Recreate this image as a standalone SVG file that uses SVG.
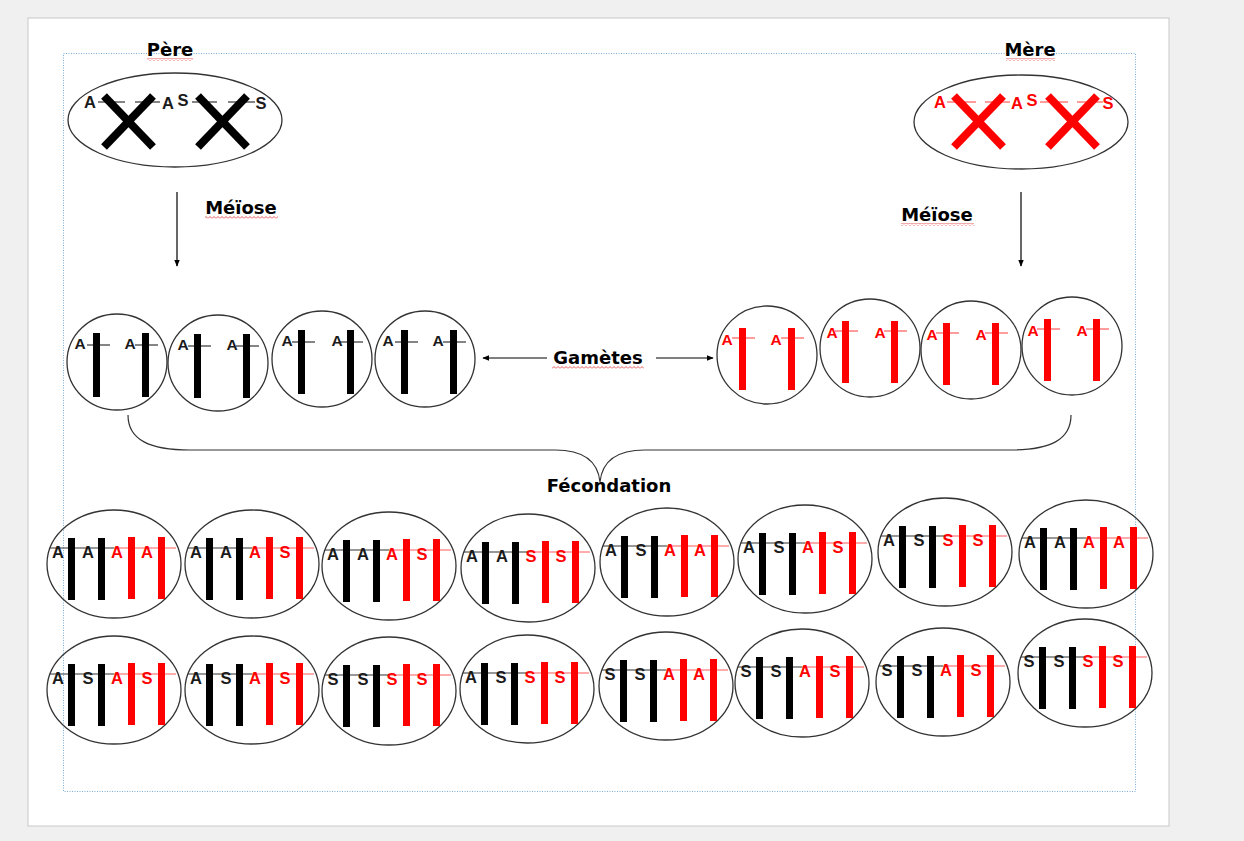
<svg xmlns="http://www.w3.org/2000/svg" xmlns:xlink="http://www.w3.org/1999/xlink" width="1244" height="841" viewBox="0 0 1244 841">
  <style>
    .cell { fill: none; stroke: #333; stroke-width: 1.3; }
    .ttl { font-family: "DejaVu Sans", "Liberation Sans", sans-serif; font-weight: bold; font-size: 18px; fill: #000; text-anchor: middle; }
    .lb { font-family: "Liberation Sans", Arial, sans-serif; font-weight: bold; font-size: 16.5px; fill: #1a1a1a; text-anchor: middle; }
    .lr { font-family: "Liberation Sans", Arial, sans-serif; font-weight: bold; font-size: 16.5px; fill: #ff0000; text-anchor: middle; }
    .g .lb, .g .lr { font-size: 15.5px; }
    .thin { stroke: #333; stroke-width: 1.2; fill: none; }
    .thinr { stroke: #ff5a5a; stroke-width: 1.2; fill: none; }
    .xb { stroke: #000; stroke-width: 8; }
    .xr { stroke: #ff0000; stroke-width: 8; }
    .arrow { stroke: #000; stroke-width: 1.2; fill: none; marker-end: url(#head); }
    .squig { fill: url(#wave); }
  </style>
  <defs>
    <marker id="head" viewBox="0 0 10 10" refX="9" refY="5" markerWidth="7" markerHeight="7" orient="auto" markerUnits="userSpaceOnUse">
      <path d="M0,1 L10,5 L0,9 Z" fill="#000"/>
    </marker>
    <pattern id="wave" width="4" height="3" patternUnits="userSpaceOnUse">
      <path d="M0,2.5 L2,0.5 L4,2.5" stroke="#e03030" stroke-width="0.8" fill="none"/>
    </pattern>
    <!-- zygote: four chromosomes, two paternal (black) two maternal (red) -->
    <g id="zyg">
      <ellipse class="cell" rx="67" ry="54"/>
      <line class="thin" x1="-64" y1="-16" x2="0" y2="-16"/>
      <line class="thinr" x1="0" y1="-16" x2="62" y2="-16"/>
      <rect x="-46" y="-26" width="7" height="62" fill="#000"/>
      <rect x="-16" y="-26" width="7" height="62" fill="#000"/>
      <rect x="14" y="-27" width="7" height="62" fill="#ff0000"/>
      <rect x="44" y="-27" width="7" height="62" fill="#ff0000"/>
    </g>
    <!-- paternal gamete -->
    <g id="gp">
      <ellipse class="cell" rx="50" ry="48"/>
      <line class="thin" x1="-30" y1="-17" x2="-7" y2="-17"/>
      <line class="thin" x1="18" y1="-17" x2="41" y2="-17"/>
      <rect x="-24" y="-29" width="7" height="64" fill="#000"/>
      <rect x="25" y="-29" width="7" height="64" fill="#000"/>
    </g>
    <!-- maternal gamete -->
    <g id="gm">
      <ellipse class="cell" rx="50" ry="49"/>
      <line class="thinr" x1="-35" y1="-17" x2="-12" y2="-17"/>
      <line class="thinr" x1="14" y1="-17" x2="37" y2="-17"/>
      <rect x="-28" y="-27" width="7" height="62" fill="#ff0000"/>
      <rect x="21" y="-27" width="7" height="62" fill="#ff0000"/>
    </g>
  </defs>

  <!-- page -->
  <rect width="1244" height="841" fill="#f0f0f0"/>
  <rect x="28" y="18" width="1141" height="808" fill="#fff" stroke="#c8c8c8" stroke-width="1"/>
  <rect x="63.5" y="53.5" width="1072" height="738" fill="none" stroke="#5b9bd5" stroke-width="1" stroke-dasharray="1,1.5" opacity="0.8"/>

  <!-- parents -->
  <g id="pere">
    <ellipse class="cell" cx="175" cy="120" rx="107" ry="47"/>
    <line class="thin" x1="98" y1="102" x2="125" y2="102"/>
    <line class="thin" x1="135" y1="102" x2="160" y2="102"/>
    <line class="thin" x1="192" y1="102" x2="217" y2="102"/>
    <line class="thin" x1="228" y1="102" x2="255" y2="102"/>
    <line class="xb" x1="104" y1="96" x2="153" y2="147"/>
    <line class="xb" x1="153" y1="96" x2="104" y2="147"/>
    <line class="xb" x1="198" y1="96" x2="247" y2="147"/>
    <line class="xb" x1="247" y1="96" x2="198" y2="147"/>
    <text class="lb" x="90" y="108">A</text>
    <text class="lb" x="168" y="109">A</text>
    <text class="lb" x="183" y="106">S</text>
    <text class="lb" x="261" y="109">S</text>
    <text class="ttl" x="170" y="56">Père</text>
    <rect class="squig" x="147" y="58" width="46" height="3"/>
  </g>
  <g id="mere">
    <ellipse class="cell" cx="1021" cy="122" rx="107" ry="47"/>
    <line class="thinr" x1="947" y1="102" x2="976" y2="102"/>
    <line class="thinr" x1="985" y1="102" x2="1010" y2="102"/>
    <line class="thinr" x1="1040" y1="102" x2="1068" y2="102"/>
    <line class="thinr" x1="1077" y1="102" x2="1103" y2="102"/>
    <line class="xr" x1="954" y1="96" x2="1003" y2="147"/>
    <line class="xr" x1="1003" y1="96" x2="954" y2="147"/>
    <line class="xr" x1="1048" y1="96" x2="1097" y2="147"/>
    <line class="xr" x1="1097" y1="96" x2="1048" y2="147"/>
    <text class="lr" x="940" y="108">A</text>
    <text class="lr" x="1017" y="109">A</text>
    <text class="lr" x="1032" y="106">S</text>
    <text class="lr" x="1108" y="109">S</text>
    <text class="ttl" x="1030" y="56">Mère</text>
    <rect class="squig" x="1006" y="58" width="49" height="3"/>
  </g>

  <!-- connectors -->
  <g id="connectors">
    <line class="arrow" x1="177" y1="192" x2="177" y2="266"/>
    <line class="arrow" x1="1021" y1="192" x2="1021" y2="266"/>
    <line class="arrow" x1="547" y1="358" x2="483" y2="358"/>
    <line class="arrow" x1="656" y1="358" x2="713" y2="358"/>
    <path class="thin" d="M128,415 C128,440 150,450 190,450 L555,450 C585,450 598,462 600,482 C602,462 615,450 645,450 L1010,450 C1050,450 1071,440 1071,415"/>
  </g>

  <!-- labels -->
  <g id="lbl-meiose-p">
    <text class="ttl" x="241" y="214">Méïose</text>
    <rect class="squig" x="205" y="216" width="73" height="3"/>
  </g>
  <g id="lbl-meiose-m">
    <text class="ttl" x="937" y="221">Méïose</text>
    <rect class="squig" x="901" y="223" width="73" height="3"/>
  </g>
  <g id="lbl-gametes">
    <text class="ttl" x="598" y="364">Gamètes</text>
    <rect class="squig" x="552" y="366" width="92" height="3"/>
  </g>
  <g id="lbl-fecondation">
    <text class="ttl" x="609" y="492">Fécondation</text>
  </g>

  <!-- paternal gametes -->
  <g id="gp1" class="g" transform="translate(117,362)"><use xlink:href="#gp"/><text class="lb" x="-37" y="-13">A</text><text class="lb" x="13" y="-13">A</text></g>
  <g id="gp2" class="g" transform="translate(218,363)"><use xlink:href="#gp"/><text class="lb" x="-35" y="-13">A</text><text class="lb" x="14" y="-13">A</text></g>
  <g id="gp3" class="g" transform="translate(322,359)"><use xlink:href="#gp"/><text class="lb" x="-35" y="-13">A</text><text class="lb" x="15" y="-13">A</text></g>
  <g id="gp4" class="g" transform="translate(425,359)"><use xlink:href="#gp"/><text class="lb" x="-37" y="-13">A</text><text class="lb" x="13" y="-13">A</text></g>

  <!-- maternal gametes -->
  <g id="gm1" class="g" transform="translate(767,355)"><use xlink:href="#gm"/><text class="lr" x="-40" y="-10">A</text><text class="lr" x="9" y="-10">A</text></g>
  <g id="gm2" class="g" transform="translate(870,348)"><use xlink:href="#gm"/><text class="lr" x="-38" y="-10">A</text><text class="lr" x="10" y="-10">A</text></g>
  <g id="gm3" class="g" transform="translate(971,350)"><use xlink:href="#gm"/><text class="lr" x="-39" y="-10">A</text><text class="lr" x="10" y="-10">A</text></g>
  <g id="gm4" class="g" transform="translate(1072,346)"><use xlink:href="#gm"/><text class="lr" x="-39" y="-10">A</text><text class="lr" x="10" y="-10">A</text></g>

  <!-- zygotes, first row -->
  <g id="z1" transform="translate(114,564)"><use xlink:href="#zyg"/><text class="lb" x="-56" y="-6">A</text><text class="lb" x="-26" y="-6">A</text><text class="lr" x="3" y="-6">A</text><text class="lr" x="33" y="-6">A</text></g>
  <g id="z2" transform="translate(252,564)"><use xlink:href="#zyg"/><text class="lb" x="-56" y="-6">A</text><text class="lb" x="-26" y="-6">A</text><text class="lr" x="3" y="-6">A</text><text class="lr" x="33" y="-6">S</text></g>
  <g id="z3" transform="translate(389,566)"><use xlink:href="#zyg"/><text class="lb" x="-56" y="-6">A</text><text class="lb" x="-26" y="-6">A</text><text class="lr" x="3" y="-6">A</text><text class="lr" x="33" y="-6">S</text></g>
  <g id="z4" transform="translate(528,568)"><use xlink:href="#zyg"/><text class="lb" x="-56" y="-6">A</text><text class="lb" x="-26" y="-6">A</text><text class="lr" x="3" y="-6">S</text><text class="lr" x="33" y="-6">S</text></g>
  <g id="z5" transform="translate(667,562)"><use xlink:href="#zyg"/><text class="lb" x="-56" y="-6">A</text><text class="lb" x="-26" y="-6">S</text><text class="lr" x="3" y="-6">A</text><text class="lr" x="33" y="-6">A</text></g>
  <g id="z6" transform="translate(805,559)"><use xlink:href="#zyg"/><text class="lb" x="-56" y="-6">A</text><text class="lb" x="-26" y="-6">S</text><text class="lr" x="3" y="-6">A</text><text class="lr" x="33" y="-6">S</text></g>
  <g id="z7" transform="translate(945,552)"><use xlink:href="#zyg"/><text class="lb" x="-56" y="-6">A</text><text class="lb" x="-26" y="-6">S</text><text class="lr" x="3" y="-6">S</text><text class="lr" x="33" y="-6">S</text></g>
  <g id="z8" transform="translate(1086,554)"><use xlink:href="#zyg"/><text class="lb" x="-56" y="-6">A</text><text class="lb" x="-26" y="-6">A</text><text class="lr" x="3" y="-6">A</text><text class="lr" x="33" y="-6">A</text></g>

  <!-- zygotes, second row -->
  <g id="z9" transform="translate(114,690)"><use xlink:href="#zyg"/><text class="lb" x="-56" y="-6">A</text><text class="lb" x="-26" y="-6">S</text><text class="lr" x="3" y="-6">A</text><text class="lr" x="33" y="-6">S</text></g>
  <g id="z10" transform="translate(252,690)"><use xlink:href="#zyg"/><text class="lb" x="-56" y="-6">A</text><text class="lb" x="-26" y="-6">S</text><text class="lr" x="3" y="-6">A</text><text class="lr" x="33" y="-6">S</text></g>
  <g id="z11" transform="translate(389,691)"><use xlink:href="#zyg"/><text class="lb" x="-56" y="-6">S</text><text class="lb" x="-26" y="-6">S</text><text class="lr" x="3" y="-6">S</text><text class="lr" x="33" y="-6">S</text></g>
  <g id="z12" transform="translate(527,689)"><use xlink:href="#zyg"/><text class="lb" x="-56" y="-6">A</text><text class="lb" x="-26" y="-6">S</text><text class="lr" x="3" y="-6">S</text><text class="lr" x="33" y="-6">S</text></g>
  <g id="z13" transform="translate(666,686)"><use xlink:href="#zyg"/><text class="lb" x="-56" y="-6">S</text><text class="lb" x="-26" y="-6">S</text><text class="lr" x="3" y="-6">A</text><text class="lr" x="33" y="-6">A</text></g>
  <g id="z14" transform="translate(802,683)"><use xlink:href="#zyg"/><text class="lb" x="-56" y="-6">S</text><text class="lb" x="-26" y="-6">S</text><text class="lr" x="3" y="-6">A</text><text class="lr" x="33" y="-6">S</text></g>
  <g id="z15" transform="translate(943,682)"><use xlink:href="#zyg"/><text class="lb" x="-56" y="-6">S</text><text class="lb" x="-26" y="-6">S</text><text class="lr" x="3" y="-6">A</text><text class="lr" x="33" y="-6">S</text></g>
  <g id="z16" transform="translate(1085,673)"><use xlink:href="#zyg"/><text class="lb" x="-56" y="-6">S</text><text class="lb" x="-26" y="-6">S</text><text class="lr" x="3" y="-6">S</text><text class="lr" x="33" y="-6">S</text></g>
</svg>
